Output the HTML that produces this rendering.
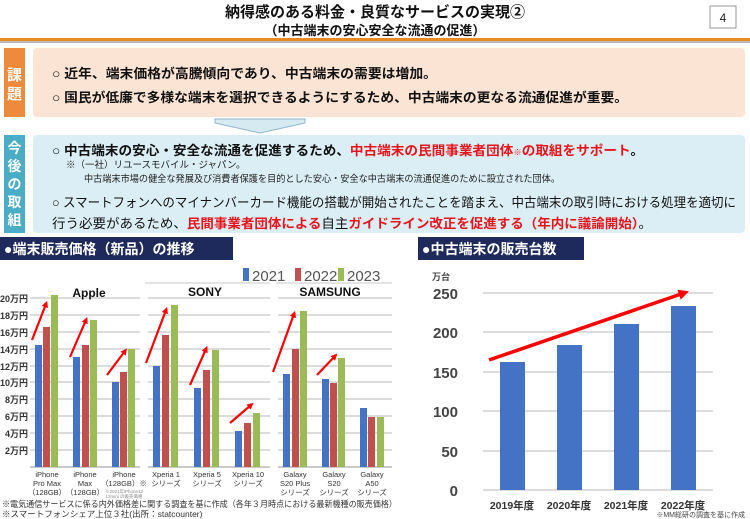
<!DOCTYPE html>
<html><head><meta charset="utf-8"><style>
html,body{margin:0;padding:0;background:#fff}
svg{display:block}
text{font-family:"Liberation Sans","Noto Sans CJK JP",sans-serif}
</style></head><body>
<svg width="750" height="519" viewBox="0 0 750 519" xmlns="http://www.w3.org/2000/svg">
<defs>
<marker id="ah" viewBox="0 0 10 10" refX="5" refY="5" markerWidth="3" markerHeight="3" orient="auto"><path d="M0,0 L10,5 L0,10 z" fill="#ff0000"/></marker>
</defs>
<text x="375" y="17" text-anchor="middle" font-size="15" font-weight="bold" fill="#111">納得感のある料金・良質なサービスの実現②</text>
<text x="375" y="35" text-anchor="middle" font-size="13" font-weight="bold" fill="#111">（中古端末の安心安全な流通の促進）</text>
<rect x="710" y="6" width="26" height="22" fill="#fff" stroke="#999"/>
<text x="723" y="22" text-anchor="middle" font-size="12" fill="#222">4</text>
<rect x="0" y="38" width="750" height="3" fill="#e98a22"/>
<rect x="0" y="41" width="750" height="2" fill="#bbb"/>
<rect x="33" y="48" width="712" height="69" rx="4" fill="#fce4d4"/>
<rect x="4" y="48" width="21" height="69" fill="#ee8a3c"/>
<text x="14.5" y="80" text-anchor="middle" font-size="15" font-weight="bold" fill="#fff">課</text>
<text x="14.5" y="99" text-anchor="middle" font-size="15" font-weight="bold" fill="#fff">題</text>
<text x="52" y="78" font-size="13" font-weight="bold" fill="#111" textLength="385" lengthAdjust="spacingAndGlyphs">○  近年、端末価格が高騰傾向であり、中古端末の需要は増加。</text>
<text x="52" y="102" font-size="13" font-weight="bold" fill="#111" textLength="576" lengthAdjust="spacingAndGlyphs">○  国民が低廉で多様な端末を選択できるようにするため、中古端末の更なる流通促進が重要。</text>
<path d="M215,119 L305,119 L305,123 L260,133 L215,123 z" fill="#d6eaf2" stroke="#8fb7c9"/>
<rect x="33" y="135" width="712" height="98" rx="4" fill="#dbeef5"/>
<rect x="4" y="135" width="21" height="98" fill="#4bacc6"/>
<g font-size="14" font-weight="bold" fill="#fff" text-anchor="middle">
<text x="14.5" y="153">今</text><text x="14.5" y="171">後</text><text x="14.5" y="189">の</text><text x="14.5" y="207">取</text><text x="14.5" y="225">組</text>
</g>
<text x="52" y="155" font-size="13" font-weight="bold" fill="#111" textLength="592" lengthAdjust="spacingAndGlyphs">○  中古端末の安心・安全な流通を促進するため、<tspan fill="#e8141c">中古端末の民間事業者団体</tspan><tspan fill="#e8141c" font-size="8">※</tspan><tspan fill="#e8141c">の取組をサポート</tspan>。</text>
<text x="66" y="168" font-size="9.5" fill="#222">※（一社）リユースモバイル・ジャパン。</text>
<text x="84" y="182" font-size="9.5" fill="#222" textLength="476" lengthAdjust="spacingAndGlyphs">中古端末市場の健全な発展及び消費者保護を目的とした安心・安全な中古端末の流通促進のために設立された団体。</text>
<text x="52" y="207" font-size="13" fill="#111" textLength="684" lengthAdjust="spacingAndGlyphs">○  スマートフォンへのマイナンバーカード機能の搭載が開始されたことを踏まえ、中古端末の取引時における処理を適切に</text>
<text x="52" y="228" font-size="13" fill="#111" textLength="600" lengthAdjust="spacingAndGlyphs">行う必要があるため、<tspan fill="#e8141c" font-weight="bold">民間事業者団体による</tspan>自主<tspan fill="#e8141c" font-weight="bold">ガイドライン改正を促進する（年内に議論開始）</tspan>。</text>
<rect x="0" y="237" width="233" height="23" fill="#1f2a5c"/>
<text x="4" y="254" font-size="14" font-weight="bold" fill="#fff">●端末販売価格（新品）の推移</text>
<rect x="418" y="237" width="166" height="23" fill="#1f2a5c"/>
<text x="422" y="254" font-size="14" font-weight="bold" fill="#fff">●中古端末の販売台数</text>
<g stroke="#c8c8c8" stroke-width="1">
<line x1="145" y1="283" x2="270" y2="283"/><line x1="276" y1="283" x2="392" y2="283"/>
</g>
<g stroke="#c8c8c8" stroke-width="1.2">
<line x1="30" y1="298" x2="140" y2="298"/><line x1="148" y1="298" x2="270" y2="298"/><line x1="278" y1="298" x2="392" y2="298"/>
<line x1="30" y1="315" x2="140" y2="315"/><line x1="148" y1="315" x2="270" y2="315"/><line x1="278" y1="315" x2="392" y2="315"/>
<line x1="30" y1="332" x2="140" y2="332"/><line x1="148" y1="332" x2="270" y2="332"/><line x1="278" y1="332" x2="392" y2="332"/>
<line x1="30" y1="349" x2="140" y2="349"/><line x1="148" y1="349" x2="270" y2="349"/><line x1="278" y1="349" x2="392" y2="349"/>
<line x1="30" y1="366" x2="140" y2="366"/><line x1="148" y1="366" x2="270" y2="366"/><line x1="278" y1="366" x2="392" y2="366"/>
<line x1="30" y1="382" x2="140" y2="382"/><line x1="148" y1="382" x2="270" y2="382"/><line x1="278" y1="382" x2="392" y2="382"/>
<line x1="30" y1="399" x2="140" y2="399"/><line x1="148" y1="399" x2="270" y2="399"/><line x1="278" y1="399" x2="392" y2="399"/>
<line x1="30" y1="416" x2="140" y2="416"/><line x1="148" y1="416" x2="270" y2="416"/><line x1="278" y1="416" x2="392" y2="416"/>
<line x1="30" y1="433" x2="140" y2="433"/><line x1="148" y1="433" x2="270" y2="433"/><line x1="278" y1="433" x2="392" y2="433"/>
<line x1="30" y1="450" x2="140" y2="450"/><line x1="148" y1="450" x2="270" y2="450"/><line x1="278" y1="450" x2="392" y2="450"/>
<line x1="30" y1="467" x2="140" y2="467" stroke="#aaa"/><line x1="148" y1="467" x2="270" y2="467" stroke="#aaa"/><line x1="278" y1="467" x2="392" y2="467" stroke="#aaa"/>
</g>
<g font-size="9" font-weight="bold" fill="#333" text-anchor="end">
<text x="28" y="302">20万円</text><text x="28" y="319">18万円</text><text x="28" y="336">16万円</text><text x="28" y="353">14万円</text><text x="28" y="370">12万円</text><text x="28" y="386">10万円</text><text x="28" y="403">8万円</text><text x="28" y="420">6万円</text><text x="28" y="437">4万円</text><text x="28" y="454">2万円</text>
</g>
<g>
<rect x="35" y="345" width="7" height="122" fill="#4472c4"/><rect x="43" y="327" width="7" height="140" fill="#c0504d"/><rect x="51" y="295" width="7" height="172" fill="#9bbb59"/>
<rect x="73" y="357" width="7" height="110" fill="#4472c4"/><rect x="82" y="345" width="7" height="122" fill="#c0504d"/><rect x="90" y="320" width="7" height="147" fill="#9bbb59"/>
<rect x="112" y="382" width="7" height="85" fill="#4472c4"/><rect x="120" y="372" width="7" height="95" fill="#c0504d"/><rect x="128" y="349" width="7" height="118" fill="#9bbb59"/>
<rect x="153" y="366" width="7" height="101" fill="#4472c4"/><rect x="162" y="335" width="7" height="132" fill="#c0504d"/><rect x="171" y="305" width="7" height="162" fill="#9bbb59"/>
<rect x="194" y="388" width="7" height="79" fill="#4472c4"/><rect x="203" y="370" width="7" height="97" fill="#c0504d"/><rect x="212" y="350" width="7" height="117" fill="#9bbb59"/>
<rect x="235" y="431" width="7" height="36" fill="#4472c4"/><rect x="244" y="423" width="7" height="44" fill="#c0504d"/><rect x="253" y="413" width="7" height="54" fill="#9bbb59"/>
<rect x="283" y="374" width="7" height="93" fill="#4472c4"/><rect x="292" y="349" width="7" height="118" fill="#c0504d"/><rect x="300" y="311" width="7" height="156" fill="#9bbb59"/>
<rect x="322" y="379" width="7" height="88" fill="#4472c4"/><rect x="330" y="383" width="7" height="84" fill="#c0504d"/><rect x="338" y="358" width="7" height="109" fill="#9bbb59"/>
<rect x="360" y="408" width="7" height="59" fill="#4472c4"/><rect x="368" y="417" width="7" height="50" fill="#c0504d"/><rect x="377" y="417" width="7" height="50" fill="#9bbb59"/>
</g>
<g stroke="#ff0000" stroke-width="2.2" marker-end="url(#ah)">
<line x1="32" y1="340" x2="46" y2="304"/><line x1="70" y1="357" x2="86" y2="320"/><line x1="107" y1="375" x2="125" y2="351"/>
<line x1="146" y1="363" x2="166" y2="310"/><line x1="190" y1="385" x2="206" y2="349"/><line x1="230" y1="423" x2="251" y2="405"/>
<line x1="273" y1="372" x2="294" y2="314"/><line x1="317" y1="375" x2="335" y2="356"/>
</g>
<rect x="243" y="268" width="6" height="13" fill="#4472c4"/><text x="252" y="281" font-size="15" fill="#555">2021</text>
<rect x="295" y="268" width="6" height="13" fill="#c0504d"/><text x="304" y="281" font-size="15" fill="#555">2022</text>
<rect x="338" y="268" width="6" height="13" fill="#9bbb59"/><text x="347" y="281" font-size="15" fill="#555">2023</text>
<g font-size="12" font-weight="bold" fill="#111" text-anchor="middle">
<text x="89" y="297">Apple</text><text x="205" y="296">SONY</text><text x="330" y="296">SAMSUNG</text>
</g>
<g font-size="7.5" fill="#333" text-anchor="middle">
<text x="47" y="477">iPhone</text><text x="47" y="486">Pro Max</text><text x="47" y="495">（128GB）</text>
<text x="85" y="477">iPhone</text><text x="85" y="486">Max</text><text x="85" y="495">（128GB）</text>
<text x="124" y="477">iPhone</text><text x="124" y="486">（128GB）※</text>
<text x="124" y="493" font-size="4.5" fill="#888">※2021年iPhone12</text><text x="124" y="498" font-size="4.5" fill="#888">12mini の販売価格</text>
<text x="166" y="477">Xperia 1</text><text x="166" y="486">シリーズ</text>
<text x="207" y="477">Xperia 5</text><text x="207" y="486">シリーズ</text>
<text x="248" y="477">Xperia 10</text><text x="248" y="486">シリーズ</text>
<text x="295" y="477">Galaxy</text><text x="295" y="486">S20  Plus</text><text x="295" y="495">シリーズ</text>
<text x="334" y="477">Galaxy</text><text x="334" y="486">S20</text><text x="334" y="495">シリーズ</text>
<text x="372" y="477">Galaxy</text><text x="372" y="486">A50</text><text x="372" y="495">シリーズ</text>
</g>
<text x="2" y="507" font-size="8.5" fill="#333" textLength="395" lengthAdjust="spacingAndGlyphs">※電気通信サービスに係る内外価格差に関する調査を基に作成（各年３月時点における最新機種の販売価格）</text>
<text x="2" y="517" font-size="8.5" fill="#333">※スマートフォンシェア上位３社(出所：statcounter)</text>
<g stroke="#c8c8c8" stroke-width="1.2">
<line x1="483" y1="293" x2="713" y2="293"/><line x1="483" y1="332" x2="713" y2="332"/><line x1="483" y1="372" x2="713" y2="372"/><line x1="483" y1="411" x2="713" y2="411"/><line x1="483" y1="451" x2="713" y2="451"/><line x1="483" y1="490" x2="713" y2="490"/>
</g>
<g font-size="15" font-weight="bold" fill="#444" text-anchor="end">
<text x="458" y="299">250</text><text x="458" y="338">200</text><text x="458" y="378">150</text><text x="458" y="417">100</text><text x="458" y="457">50</text><text x="458" y="496">0</text>
</g>
<text x="432" y="280" font-size="9" font-weight="bold" fill="#444">万台</text>
<rect x="500" y="362" width="25" height="128" fill="#4472c4"/>
<rect x="557" y="345" width="25" height="145" fill="#4472c4"/>
<rect x="614" y="324" width="25" height="166" fill="#4472c4"/>
<rect x="671" y="306" width="25" height="184" fill="#4472c4"/>
<line x1="489" y1="360" x2="684" y2="293" stroke="#ff0000" stroke-width="3.5" marker-end="url(#ah)"/>
<g font-size="10.5" font-weight="bold" fill="#333" text-anchor="middle">
<text x="512" y="509">2019年度</text><text x="569" y="509">2020年度</text><text x="626" y="509">2021年度</text><text x="683" y="509">2022年度</text>
</g>
<text x="745" y="517" font-size="7" fill="#444" text-anchor="end">※MM総研の調査を基に作成</text>
</svg>
</body></html>
